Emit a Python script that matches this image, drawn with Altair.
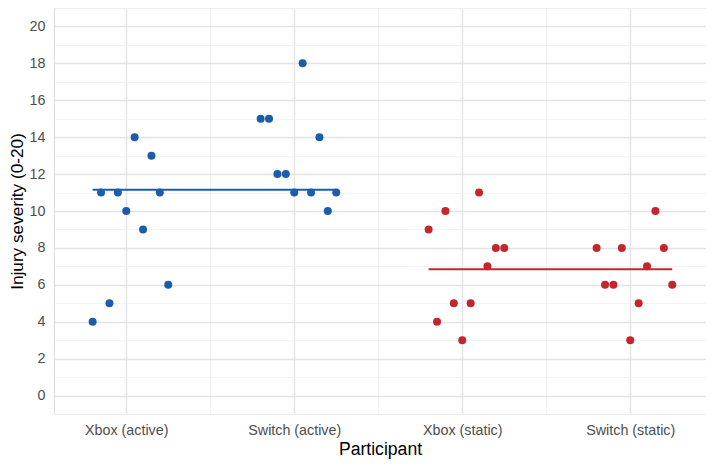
import json
import altair as alt
import pandas as pd

categories = ["Xbox (active)", "Switch (active)", "Xbox (static)", "Switch (static)"]
groups = ["active", "active", "static", "static"]
xbox_active = [4, 11, 5, 11, 10, 14, 9, 13, 11, 6]
switch_active = [15, 15, 12, 12, 11, 18, 11, 14, 10, 11]
xbox_static = [9, 4, 10, 5, 3, 5, 11, 7, 8, 8]
switch_static = [8, 6, 6, 8, 3, 5, 7, 10, 8, 6]
participant = list(range(1, 11))
y_values = list(range(-1, 22))
x_values = [1, 1.5, 2, 2.5, 3, 3.5, 4]

BLUE = "#1a5dab"
RED = "#c4262e"
FONT = "Liberation Sans"

rows = []
for ci, (cat, grp, vals) in enumerate(zip(categories, groups,
                                          [xbox_active, switch_active, xbox_static, switch_static])):
    for p, v in zip(participant, vals):
        rows.append({"cat_index": ci + 1, "participant": p, "condition": cat,
                     "group": grp, "severity": v})
df = pd.DataFrame(rows)

base = alt.Chart(df).transform_calculate(
    xpos="datum.cat_index + (datum.participant - 5) * 0.05"
)

color = alt.Color("group:N", scale=alt.Scale(domain=["active", "static"], range=[BLUE, RED]),
                  legend=None)

xscale = alt.Scale(domain=[0.57, 4.451], nice=False, zero=False)
yscale = alt.Scale(domain=[-1, 21], nice=False, zero=False)

cat_js = json.dumps(categories)
x_axis = alt.Axis(
    values=x_values,
    labelExpr=f"datum.value % 1 == 0 ? {cat_js}[datum.value - 1] : ''",
    grid=True,
    gridColor={"condition": {"test": "datum.value % 1 != 0", "value": "#f0f0f0"}, "value": "#e3e3e3"},
    gridWidth={"condition": {"test": "datum.value % 1 != 0", "value": 0.8}, "value": 1.4},
    ticks=False, domain=False, labelOverlap=False,
    labelFont=FONT, labelFontSize=14.3, labelColor="#4d4d4d", labelPadding=9,
    title="Participant", titleFont=FONT, titleFontSize=17.6, titleFontWeight="normal",
    titleColor="#000000", titlePadding=3,
)
y_axis = alt.Axis(
    values=y_values,
    labelExpr="(datum.value % 2 == 0 && datum.value >= 0 && datum.value <= 20) ? datum.label : ''",
    grid=True,
    gridColor={"condition": {"test": "datum.value % 2 != 0", "value": "#f0f0f0"}, "value": "#e3e3e3"},
    gridWidth={"condition": {"test": "datum.value % 2 != 0", "value": 0.8}, "value": 1.4},
    ticks=False, domain=False, labelOverlap=False,
    labelFont=FONT, labelFontSize=14.3, labelColor="#4d4d4d", labelPadding=9,
    title="Injury severity (0-20)", titleFont=FONT, titleFontSize=17.2, titleFontWeight="normal",
    titleColor="#000000", titlePadding=3,
)

means = base.mark_rule(strokeWidth=2).encode(
    x=alt.X("min(xpos):Q", scale=xscale, axis=x_axis),
    x2="max(xpos):Q",
    y=alt.Y("mean(severity):Q", scale=yscale, axis=y_axis),
    color=color,
)

points = base.mark_circle(size=64, opacity=1).encode(
    x=alt.X("xpos:Q", scale=xscale, axis=x_axis),
    y=alt.Y("severity:Q", scale=yscale, axis=y_axis),
    color=color,
)

chart = alt.layer(means, points).properties(
    width=652, height=406,
    autosize=alt.AutoSizeParams(type="none"),
    padding={"left": 46, "top": 0, "right": 0, "bottom": 46},
).configure_view(stroke=None).configure(background="white")

chart.save("out.html", embed_options={"renderer": "svg", "actions": False})
